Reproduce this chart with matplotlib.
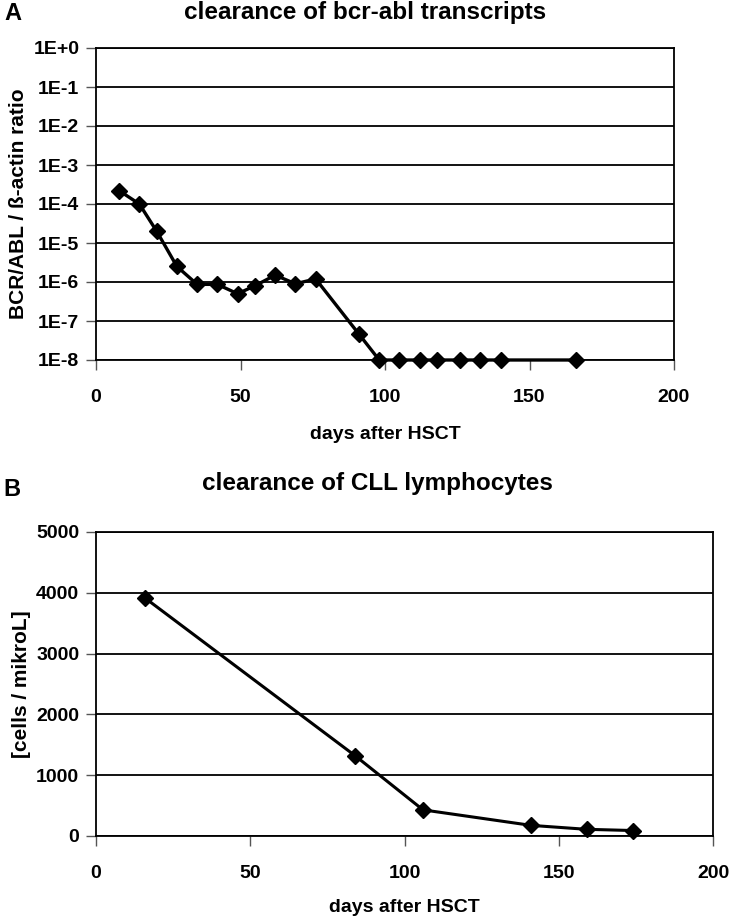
import matplotlib

matplotlib.use("Agg")
import matplotlib.pyplot as plt
from matplotlib.ticker import FixedLocator

plt.rcParams["font.family"] = ["Liberation Sans", "DejaVu Sans"]
plt.rcParams["font.weight"] = "bold"

# panel A: bcr-abl transcripts
days_a = [8, 15, 21, 28, 35, 42, 49, 55, 62, 69, 76, 91, 98, 105, 112, 118, 126, 133, 140, 166]
ratio_a = [2.2e-4, 1.0e-4, 2.0e-5, 2.5e-6, 8.7e-7, 8.7e-7, 5.0e-7, 8.0e-7, 1.5e-6, 9.0e-7,
           1.2e-6, 4.6e-8, 1e-8, 1e-8, 1e-8, 1e-8, 1e-8, 1e-8, 1e-8, 1e-8]
yticks_a = [1e0, 1e-1, 1e-2, 1e-3, 1e-4, 1e-5, 1e-6, 1e-7, 1e-8]
ylabels_a = ["1E+0", "1E-1", "1E-2", "1E-3", "1E-4", "1E-5", "1E-6", "1E-7", "1E-8"]

# panel B: CLL lymphocytes
days_b = [16, 84, 106, 141, 159, 174]
cells_b = [3910, 1320, 430, 175, 110, 90]
yticks_b = [0, 1000, 2000, 3000, 4000, 5000]

xticks = [0, 50, 100, 150, 200]

W, H = 730, 916
fig = plt.figure(figsize=(W / 100, H / 100), dpi=100)


def box(l, t, r, b):
    return [l / W, 1 - b / H, (r - l) / W, (b - t) / H]


def style(ax):
    for s in ax.spines.values():
        s.set_linewidth(1.3)
        s.set_color("black")
    ax.set_axisbelow(True)
    ax.yaxis.grid(True, color="black", lw=1.3)
    ax.tick_params(axis="both", direction="out", length=7, width=1, labelsize=14, color="#555")
    ax.tick_params(axis="y", pad=5)
    ax.tick_params(axis="x", pad=14)
    ax.set_xlim(0, 200)
    ax.set_xticks(xticks)
    ax.set_xticklabels([str(t) for t in xticks], fontweight="bold")


axA = fig.add_axes(box(96, 48, 674, 360))
axA.set_yscale("log")
axA.plot(days_a, ratio_a, "-D", color="black", lw=2.4, markersize=8.5, clip_on=False, zorder=3)
axA.set_ylim(1e-8, 1e0)
axA.yaxis.set_major_locator(FixedLocator(yticks_a))
axA.yaxis.set_minor_locator(FixedLocator([]))
axA.set_yticklabels(ylabels_a, fontweight="bold")
style(axA)
axA.set_xlabel("days after HSCT", fontsize=14, fontweight="bold", labelpad=14)
axA.set_ylabel("BCR/ABL / ß-actin ratio", fontsize=15, fontweight="bold", labelpad=4)

axB = fig.add_axes(box(96, 532, 713, 836))
axB.plot(days_b, cells_b, "-D", color="black", lw=2.2, markersize=8.5, clip_on=False, zorder=3)
axB.set_ylim(0, 5000)
axB.set_yticks(yticks_b)
axB.set_yticklabels([str(t) for t in yticks_b], fontweight="bold")
style(axB)
axB.set_xlabel("days after HSCT", fontsize=14, fontweight="bold", labelpad=12)
axB.set_ylabel("[cells / mikroL]", fontsize=15, fontweight="bold", labelpad=4)

fig.text(365 / W, 1 - 12 / H, "clearance of bcr-abl transcripts", fontsize=17.5,
         fontweight="bold", ha="center", va="center")
fig.text(377 / W, 1 - 483 / H, "clearance of CLL lymphocytes", fontsize=17.5,
         fontweight="bold", ha="center", va="center")
fig.text(4 / W, 1 - 13 / H, "A", fontsize=17, fontweight="bold", ha="left", va="center")
fig.text(3 / W, 1 - 489 / H, "B", fontsize=17, fontweight="bold", ha="left", va="center")

fig.savefig("out.png", dpi=100)
